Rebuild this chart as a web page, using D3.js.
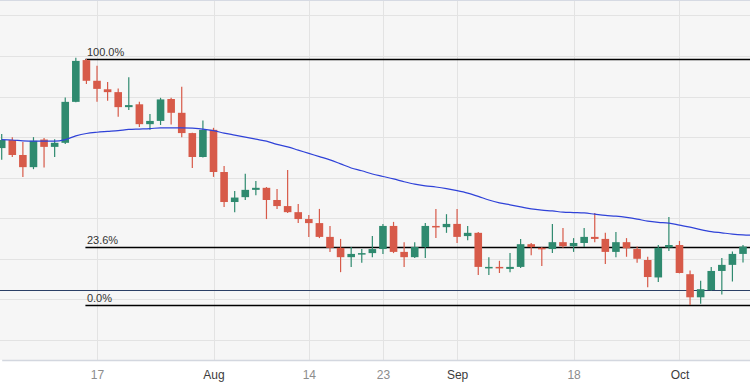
<!DOCTYPE html>
<html>
<head>
<meta charset="utf-8">
<script src="https://cdn.jsdelivr.net/npm/d3@7"></script>
<style>
body { margin: 0; background: #fff; }
text { font-family: "Liberation Sans", Arial, sans-serif; }
</style>
</head>
<body>
<div id="chart"></div>
<script>
const width = 750,
height = 386,
plotBottom = 360;

// trading days; the last one sits just past the right edge
const dates = [
"2023-07-04","2023-07-05","2023-07-06","2023-07-07","2023-07-10","2023-07-11","2023-07-12","2023-07-13","2023-07-14",
"2023-07-17","2023-07-18","2023-07-19","2023-07-20","2023-07-21","2023-07-24","2023-07-25","2023-07-26","2023-07-27","2023-07-28","2023-07-31",
"2023-08-01","2023-08-02","2023-08-03","2023-08-04","2023-08-07","2023-08-08","2023-08-09","2023-08-10","2023-08-11",
"2023-08-14","2023-08-15","2023-08-16","2023-08-17","2023-08-18","2023-08-21","2023-08-22","2023-08-23","2023-08-24","2023-08-25",
"2023-08-28","2023-08-29","2023-08-30","2023-08-31",
"2023-09-01","2023-09-04","2023-09-05","2023-09-06","2023-09-07","2023-09-08","2023-09-11","2023-09-12","2023-09-13","2023-09-14","2023-09-15",
"2023-09-18","2023-09-19","2023-09-20","2023-09-21","2023-09-22","2023-09-25","2023-09-26","2023-09-27","2023-09-28","2023-09-29",
"2023-10-02","2023-10-03","2023-10-04","2023-10-05","2023-10-06","2023-10-09","2023-10-10","2023-10-11"];

const open = [0.6673,0.6693,0.6656,0.6626,0.6694,0.6676,0.6686,0.6787,0.6890,0.6839,0.6818,0.6811,0.6774,0.6781,0.6732,0.6740,0.6794,0.6760,0.6710,0.6651,
0.6718,0.6614,0.6540,0.6552,0.6570,0.6575,0.6545,0.6530,0.6515,0.6498,0.6488,0.6454,0.6427,0.6404,0.6412,0.6414,0.6424,0.6481,0.6417,0.6404,
0.6429,0.6481,0.6478,0.6486,0.6456,0.6464,0.6377,0.6380,0.6375,0.6380,0.6436,0.6427,0.6424,0.6441,0.6431,0.6439,0.6454,0.6449,0.6417,0.6441,
0.6424,0.6397,0.6354,0.6428,0.6434,0.6362,0.6305,0.6323,0.6370,0.6385,0.6412];

const high = [0.6708,0.6700,0.6688,0.6700,0.6698,0.6695,0.6798,0.6896,0.6893,0.6876,0.6836,0.6820,0.6848,0.6787,0.6757,0.6797,0.6797,0.6824,0.6711,0.6741,
0.6723,0.6629,0.6567,0.6610,0.6592,0.6577,0.6572,0.6619,0.6535,0.6508,0.6523,0.6481,0.6449,0.6429,0.6424,0.6456,0.6486,0.6491,0.6441,0.6441,
0.6488,0.6523,0.6510,0.6523,0.6481,0.6466,0.6404,0.6395,0.6414,0.6449,0.6439,0.6429,0.6486,0.6476,0.6451,0.6476,0.6513,0.6464,0.6466,0.6451,
0.6430,0.6405,0.6434,0.6503,0.6444,0.6371,0.6346,0.6380,0.6402,0.6418,0.6434];

const low = [0.6644,0.6651,0.6602,0.6621,0.6625,0.6651,0.6683,0.6786,0.6831,0.6787,0.6790,0.6750,0.6767,0.6725,0.6718,0.6730,0.6731,0.6700,0.6624,0.6650,
0.6602,0.6528,0.6515,0.6545,0.6557,0.6498,0.6523,0.6513,0.6488,0.6454,0.6451,0.6417,0.6367,0.6380,0.6390,0.6404,0.6412,0.6414,0.6380,0.6402,
0.6402,0.6451,0.6464,0.6439,0.6446,0.6360,0.6360,0.6365,0.6367,0.6377,0.6409,0.6382,0.6414,0.6427,0.6417,0.6429,0.6441,0.6387,0.6404,0.6405,
0.6390,0.6330,0.6343,0.6419,0.6364,0.6286,0.6289,0.6321,0.6312,0.6344,0.6391];

const close = [0.6693,0.6656,0.6626,0.6691,0.6676,0.6686,0.6787,0.6888,0.6839,0.6819,0.6811,0.6774,0.6779,0.6732,0.6740,0.6793,0.6760,0.6710,0.6651,0.6718,
0.6614,0.6540,0.6551,0.6570,0.6575,0.6545,0.6530,0.6515,0.6498,0.6488,0.6454,0.6427,0.6404,0.6412,0.6414,0.6424,0.6481,0.6417,0.6404,0.6429,
0.6481,0.6478,0.6486,0.6454,0.6464,0.6380,0.6380,0.6377,0.6380,0.6436,0.6429,0.6424,0.6441,0.6431,0.6439,0.6454,0.6449,0.6417,0.6441,0.6426,
0.6400,0.6355,0.6427,0.6434,0.6365,0.6305,0.6325,0.6370,0.6385,0.6412,0.6430];

const ma = [0.6694,0.6693,0.6691,0.6690,0.6690,0.6690,0.6694,0.6703,0.6709,0.6712,0.6714,0.6716,0.6719,0.6720,0.6721,0.6723,0.6723,0.6723,0.6722,0.6720,
0.6716,0.6710,0.6705,0.6700,0.6695,0.6690,0.6682,0.6676,0.6668,0.6660,0.6652,0.6644,0.6634,0.6624,0.6617,0.6609,0.6603,0.6597,0.6590,0.6584,
0.6580,0.6577,0.6573,0.6568,0.6562,0.6554,0.6545,0.6538,0.6533,0.6528,0.6523,0.6520,0.6518,0.6515,0.6514,0.6513,0.6510,0.6507,0.6505,0.6502,
0.6498,0.6493,0.6490,0.6488,0.6483,0.6478,0.6472,0.6467,0.6464,0.6461,0.6459,0.6458];

const priceTicks = [0.62,0.63,0.64,0.65,0.66,0.67,0.68,0.69,0.70];
const dateTicks = ["2023-07-17","2023-08-01","2023-08-14","2023-08-23","2023-09-01","2023-09-18","2023-10-02"];
const dateLabels = ["17","Aug","14","23","Sep","18","Oct"];
const monthTicks = ["Aug","Sep","Oct"];

const fibHigh = 0.6893, fibLow = 0.6286, fibStart = "2023-07-14";
const fibLevels = [1, 0.236, 0];
const fibNames = ["100.0%","23.6%","0.0%"];
const supportLevel = 0.6324;

const candles = open.map((o, i) => ({date: dates[i], o: o, h: high[i], l: low[i], c: close[i]}));
const maPoints = ma.map((v, i) => ({date: dates[i], v: v}));

const svg = d3.select("#chart")
.append("svg")
.attr("width", width)
.attr("height", height);

let x = d3.scalePoint(dates, [1.7, 753.6]);
let y = d3.scaleLinear([0.61504, 0.70382], [plotBottom, 0]);
const bodyW = 7.6;
const snap = v => Math.round(v) + 0.5;

svg.append("rect")
.attr("width", width)
.attr("height", plotBottom)
.attr("fill", "#f6f6f6");

svg.append("g")
.selectAll("line")
.data(priceTicks)
.join("line")
.attr("x1", 0)
.attr("x2", width)
.attr("y1", d => snap(y(d)))
.attr("y2", d => snap(y(d)))
.attr("stroke", "#e3e3e3");

svg.append("g")
.selectAll("line")
.data(dateTicks)
.join("line")
.attr("x1", d => snap(x(d)))
.attr("x2", d => snap(x(d)))
.attr("y1", 0)
.attr("y2", plotBottom)
.attr("stroke", "#e3e3e3");

svg.append("line")
.attr("x1", 0).attr("x2", width)
.attr("y1", 0.5).attr("y2", 0.5)
.attr("stroke", "#d6dae3");

const xAxis = svg.append("g")
.attr("transform", `translate(0,${plotBottom})`)
.call(d3.axisBottom(x).tickValues(dateTicks).tickSize(0).tickPadding(10)
.tickFormat((d, i) => dateLabels[i]));

xAxis.select(".domain").attr("stroke", "#d3d7df").attr("stroke-width", 1.5);
xAxis.selectAll("text")
.attr("font-size", 12)
.attr("font-family", "'Liberation Sans', Arial, sans-serif")
.attr("fill", d => monthTicks.includes(dateLabels[dateTicks.indexOf(d)]) ? "#3c3c3c" : "#8c8c8c");

const plot = svg.append("g");

plot.append("line")
.attr("x1", 0).attr("x2", width)
.attr("y1", snap(y(supportLevel))).attr("y2", snap(y(supportLevel)))
.attr("stroke", "#2b3f66")
.attr("stroke-width", 1);

const fib = plot.selectAll(".fib")
.data(fibLevels)
.join("g")
.attr("class", "fib");

fib.append("line")
.attr("x1", x(fibStart) - 1)
.attr("x2", width)
.attr("y1", d => snap(y(fibLow + d * (fibHigh - fibLow))))
.attr("y2", d => snap(y(fibLow + d * (fibHigh - fibLow))))
.attr("stroke", "#000")
.attr("stroke-width", 1.4);

fib.append("text")
.attr("x", x(fibStart) + 0.5)
.attr("y", d => y(fibLow + d * (fibHigh - fibLow)) - 3)
.attr("font-size", 11)
.attr("fill", "#333")
.text((d, i) => fibNames[i]);

const green = "#2f8a6f", red = "#d75a49";

const candle = plot.append("g")
.selectAll("g")
.data(candles)
.join("g")
.attr("fill", d => d.c >= d.o ? green : red)
.attr("stroke", d => d.c >= d.o ? green : red);

candle.append("line")
.attr("x1", d => x(d.date))
.attr("x2", d => x(d.date))
.attr("y1", d => y(d.h))
.attr("y2", d => y(d.l))
.attr("stroke-width", 1.2);

candle.append("rect")
.attr("x", d => x(d.date) - bodyW / 2)
.attr("y", d => y(Math.max(d.o, d.c)))
.attr("width", bodyW)
.attr("height", d => Math.max(1.5, Math.abs(y(d.o) - y(d.c))))
.attr("stroke", "none");

plot.append("path")
.datum(maPoints)
.attr("fill", "none")
.attr("stroke", "#2f42d8")
.attr("stroke-width", 1.2)
.attr("d", d3.line().x(d => x(d.date)).y(d => y(d.v)).curve(d3.curveMonotoneX));
</script>
</body>
</html>
